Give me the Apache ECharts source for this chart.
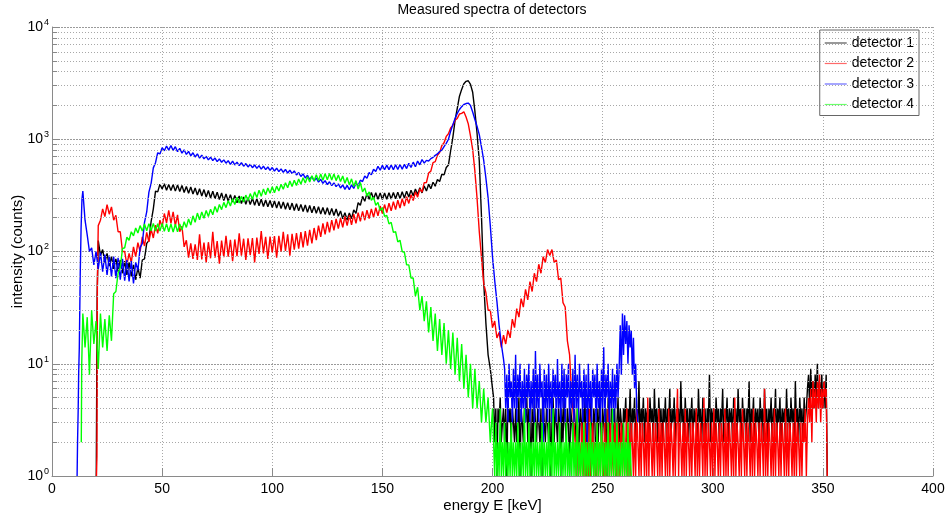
<!DOCTYPE html>
<html>
<head>
<meta charset="utf-8">
<script src="https://cdn.jsdelivr.net/npm/echarts@6/dist/echarts.min.js"></script>
<style>html,body{margin:0;padding:0;background:#fff}#c{width:948px;height:519px}</style>
</head>
<body>
<div id="c"></div>
<script>
// ---------- data ----------
const seriesNames = ['detector 1', 'detector 2', 'detector 3', 'detector 4'];
const xTicks = [0, 50, 100, 150, 200, 250, 300, 350, 400];
const yTicks = [1, 10, 100, 1000, 10000];

// detector 1 (black)
const det1Lead = [[20.1, 1], [20.5, 40]];
const det1MainStart = 21; // 1 keV steps
const det1Main = [
 125,92,104,80,96,74,90,70,86,66,
 84,64,82,62,80,60,76,56,72,58,
 84,86,118,125,185,240,345,340,398,360,
 402,352,396,350,395,345,392,342,388,335,
 380,330,375,325,368,318,362,312,356,306,
 350,300,345,295,338,290,332,284,325,280,
 320,276,316,272,312,268,306,264,302,262,
 298,258,295,255,292,252,288,250,285,246,
 282,244,279,241,276,238,272,235,270,232,
 266,230,263,227,260,224,257,221,253,219,
 250,216,247,214,245,211,242,209,239,206,
 230,196,222,191,220,196,235,219,272,258,
 310,280,328,292,336,294,334,292,333,291,
 332,292,334,293,336,295,338,297,340,300,
 345,306,352,314,360,322,370,333,384,346,
 398,362,414,382,438,420,488,482,560,590,
 790,1040,1470,1880,2420,2780,3120,3280,3320,3080,
 2620,1780,1120,640,205,54,23,12,9,6
];
const det1FloorStart = 200.5; // 0.5 keV steps
const det1Floor = [
 5,2,4,1,4,3,5,2,3,4,2,4,1,5,3,4,2,4,3,2,
 4,2,3,5,1,4,3,2,4,3,6,2,4,3,1,4,2,5,3,2,
 4,3,2,4,1,5,3,2,4,3,2,4,1,3,5,2,4,3,2,4,
 3,1,4,2,5,3,2,4,3,1,4,3,2,5,3,2,4,1,3,4,
 2,4,3,5,1,3,4,2,6,3,2,4,3,1,4,2,5,3,2,4,
 3,2,4,1,5,3,2,4,3,2,4,1,3,5,2,4,3,2,4,3,
 5,2,4,3,6,2,4,3,5,2,4,3,7,2,4,3,5,2,4,3,
 4,2,5,3,4,2,6,3,4,2,5,3,4,2,4,3,5,2,4,3,
 6,2,4,3,5,2,4,3,4,2,7,3,4,2,5,3,4,2,4,3,
 5,2,4,3,4,2,6,3,4,2,5,3,4,2,4,3,8,2,4,3,
 4,2,5,3,4,2,4,3,6,2,4,3,5,2,4,3,4,2,5,3,
 4,2,6,3,4,2,5,3,4,2,4,3,7,2,4,3,5,2,4,3,
 4,2,5,3,4,2,6,3,4,2,4,3,5,2,4,3,6,2,4,3,
 5,2,4,3,4,2,6,3,4,2,5,3,4,2,7,3,4,2,5,3,
 4,2,5,3,4,6,8,4,9,5,7,4,8,5,10,4,7,5,8,4,
 7,4,8,1
];

// detector 2 (red)
const det2Lead = [[20.2, 1], [20.4, 1.5], [20.6, 50]];
const det2MainStart = 21;
const det2Main = [
 170,190,240,205,262,215,250,190,210,150,
 150,100,100,76,96,80,110,90,120,100,
 135,112,148,122,158,132,172,145,190,165,
 218,180,232,178,225,170,212,150,168,110,
 126,88,118,86,116,84,142,85,120,80,
 121,87,150,88,124,78,125,89,138,90,
 127,82,128,91,145,92,130,84,131,93,
 132,80,133,95,152,96,135,86,136,98,
 137,88,138,100,150,101,142,92,144,104,
 146,106,149,109,152,113,156,118,162,126,
 170,135,178,142,184,148,190,154,195,160,
 198,164,205,170,210,173,215,178,222,186,
 228,190,233,196,240,202,246,208,254,218,
 262,222,270,230,278,236,286,244,296,254,
 308,268,320,284,340,305,362,338,410,412,
 500,520,620,632,720,760,880,930,1060,1120,
 1260,1330,1480,1530,1680,1700,1760,1580,1370,1070,
 810,520,295,150,88,52,43,30,30,21,
 24,17,19,14,18,15,20,17,25,21,
 31,26,38,32,46,37,54,44,64,54,
 77,64,90,80,104,92,104,80,84,56,
 58,35,32,16,12,5,3
];
const det2FloorStart = 237.5;
const det2Floor = [
 2,1,3,1,2,1,3,2,1,3,1,2,1,4,1,2,3,1,2,1,
 3,1,2,1,3,2,1,3,1,2,4,1,3,1,2,1,3,2,1,3,
 1,2,3,1,3,1,2,4,1,3,1,3,2,1,3,1,4,2,1,3,
 1,3,2,1,3,1,5,1,3,2,1,3,1,3,2,1,4,1,3,1,
 3,2,1,3,1,4,1,3,2,1,3,1,3,6,1,3,2,1,3,1,
 4,1,3,2,1,3,1,3,2,1,4,1,3,1,3,2,1,5,1,3,
 1,3,2,1,3,1,4,1,3,2,1,3,1,3,2,1,4,1,3,1,
 3,2,1,3,1,5,1,3,2,1,3,1,4,2,1,3,1,3,2,1,
 3,1,4,1,3,2,1,3,1,3,2,1,6,1,3,1,3,2,1,3,
 1,4,1,3,2,1,3,1,3,2,1,4,1,3,1,3,2,1,3,1,
 4,1,3,2,1,3,1,3,2,4,1,3,5,3,6,2,7,4,6,3,
 7,4,8,3,6,4,7,5,6,1
];

// detector 3 (blue)
const det3Lead = [[11.4, 1], [11.6, 2], [11.9, 4], [12.1, 8], [12.4, 14], [12.8, 60], [13.2, 160], [13.6, 290]];
const det3MainStart = 14;
const det3Main = [
 345,190,140,100,108,76,100,70,98,66,
 94,62,92,60,90,58,88,56,86,55,
 84,54,82,52,80,68,108,118,182,225,
 338,405,556,618,758,740,840,790,870,800,
 880,795,858,775,830,752,805,732,780,712,
 758,695,740,680,722,668,705,655,692,645,
 680,632,668,624,655,612,645,598,638,590,
 626,582,618,575,608,566,598,558,590,550,
 582,542,575,536,566,528,560,520,552,514,
 545,508,538,500,530,494,522,480,505,466,
 492,452,478,438,466,425,452,415,440,405,
 428,395,418,386,408,378,400,368,392,358,
 388,355,392,365,405,388,432,420,470,450,
 505,482,540,515,575,530,585,535,588,536,
 590,534,592,538,595,540,598,548,610,560,
 625,570,640,592,660,612,648,640,672,690,
 718,740,780,800,860,920,1000,1180,1350,1530,
 1700,1840,1950,2040,2080,2100,2000,1750,1500,1300,
 1100,850,650,450,300,170,90,55,36,22,
 15,11
];
const det3FloorStart = 205.5;
const det3Floor = [
 9,4,8,3,10,5,7,3,9,4,12,3,8,5,10,3,7,4,9,3,
 8,5,10,3,7,4,9,3,13,4,8,3,10,5,7,2,9,4,8,3,
 10,4,7,3,9,5,8,3,11,4,7,3,10,4,9,3,8,5,10,3,
 7,4,9,3,12,4,8,3,10,5,7,3,9,4,8,2,10,4,7,3,
 9,5,8,3,10,4,7,3,9,4,14,3,8,5,10,3,7,4,9,3,
 8,4,10,5,9,
 22,8,28,12,27,15,24,10,22,14,20,8,17,6,10,4,3
];

// detector 4 (green)
const det4Lead = [[13.3, 2], [13.5, 10]];
const det4MainStart = 14;
const det4Main = [
 28,14,26,8,30,15,24,9,28,14,
 25,13,27,16,42,44,64,72,106,108,
 134,126,150,138,162,146,170,152,176,153,
 177,153,178,152,177,152,178,151,177,150,
 176,149,175,150,176,155,184,164,195,172,
 208,182,220,192,225,198,232,205,238,212,
 252,224,262,236,274,246,284,254,295,262,
 304,270,310,276,318,285,328,292,340,302,
 352,310,360,320,368,330,378,334,382,346,
 396,358,410,370,424,380,432,388,442,398,
 454,408,464,416,474,424,482,428,490,432,
 494,436,496,434,490,428,480,420,470,406,
 456,392,444,380,428,360,412,340,368,312,
 340,285,305,258,274,232,246,206,210,176,
 182,148,150,122,126,100,98,76,76,58,
 58,40,48,30,40,24,36,19,32,16,
 28,13,25,12,23,10,20,9,19,8,
 17,7,15,6,12,5,10,4,9,4,
 7,3,6,3,5,2,4
];
const det4FloorStart = 200.5;
const det4Floor = [
 2,1,3,1,2,1,4,1,2,1,3,1,2,1,2,1,3,1,2,1,
 2,1,3,1,2,1,2,1,4,1,2,1,3,1,2,1,2,1,3,1,
 2,1,2,1,3,1,2,1,2,1,3,1,2,1,4,1,2,1,2,1,
 3,1,2,1,2,1,3,1,2,1,2,1,3,1,2,1,4,1,2,1,
 2,1,3,1,2,1,2,1,3,1,2,1,2,1,3,1,2,1,3,1,
 2,1,2,1,3,1,2,1,4,1,2,1,3,1,2,1,2,1,3,1,
 2,1,3,1,2,1
];

// ---------- build ----------
function build(lead, mainStart, main, floorStart, floor) {
  const pts = lead.map(p => [p[0], p[1]]);
  main.forEach((v, i) => pts.push([mainStart + i, v]));
  floor.forEach((v, i) => pts.push([floorStart + i * 0.5, v]));
  return pts;
}
const seriesData = [
  build(det1Lead, det1MainStart, det1Main, det1FloorStart, det1Floor),
  build(det2Lead, det2MainStart, det2Main, det2FloorStart, det2Floor),
  build(det3Lead, det3MainStart, det3Main, det3FloorStart, det3Floor),
  build(det4Lead, det4MainStart, det4Main, det4FloorStart, det4Floor)
];
const colors = ['#000000', '#ff0000', '#0000ff', '#00ff00'];
const legendColors = ['#555555', '#ff6a6a', '#6a6aff', '#6aff6a'];

const minorVals = [];
for (let k = 0; k < 4; k++) for (let m = 2; m <= 9; m++) minorVals.push(m * Math.pow(10, k));

const FONT = '"Liberation Sans", Arial, Helvetica, sans-serif';
const chart = echarts.init(document.getElementById('c'), null, { renderer: 'canvas' });

const series = [
  {
    type: 'line', name: '_minorgrid', data: [[0, 1]], symbol: 'none', silent: true,
    lineStyle: { opacity: 0 }, z: 1,
    markLine: {
      silent: true, symbol: 'none', animation: false, label: { show: false },
      lineStyle: { type: [1, 2], color: '#a8a8a8', width: 1 },
      emphasis: { disabled: true },
      data: minorVals.map(v => ({ yAxis: v }))
    }
  },
  {
    type: 'line', name: '_minorticks', data: [[0, 1]], symbol: 'none', silent: true,
    lineStyle: { opacity: 0 }, z: 1,
    markLine: {
      silent: true, symbol: 'none', animation: false, label: { show: false },
      lineStyle: { type: 'solid', color: '#888', width: 1 },
      emphasis: { disabled: true },
      data: minorVals.map(v => [{ coord: [0, v] }, { coord: [2.3, v] }])
    }
  }
];
seriesNames.forEach((n, i) => {
  series.push({
    type: 'line', name: n, data: seriesData[i], symbol: 'none', showSymbol: false,
    sampling: null, animation: false, z: 2 + i,
    lineStyle: { color: colors[i], width: 1.4, join: 'bevel' },
    itemStyle: { color: colors[i] },
    emphasis: { disabled: true }
  });
});

chart.setOption({
  animation: false,
  backgroundColor: '#fff',
  title: {
    text: 'Measured spectra of detectors', left: 492, top: 3, padding: 0, textAlign: 'center',
    textStyle: { fontFamily: FONT, fontSize: 14, fontWeight: 'normal', color: '#000' }
  },
  legend: {
    data: seriesNames.map((n, i) => ({ name: n, icon: 'rect', itemStyle: { color: legendColors[i] } })),
    orient: 'vertical', right: 29, top: 30,
    padding: [5, 5, 3, 5], itemGap: 4.5, itemWidth: 22, itemHeight: 1.2, itemTextGap: 3,
    backgroundColor: '#fff', borderColor: '#666', borderWidth: 1, borderRadius: 0,
    textStyle: { fontFamily: FONT, fontSize: 14, color: '#000', lineHeight: 16 },
    selectedMode: false
  },
  grid: { left: 52, right: 15, top: 27, bottom: 43, containLabel: false, outerBoundsMode: 'none' },
  xAxis: {
    type: 'value', min: 0, max: 400, interval: 50,
    name: 'energy E [keV]', nameLocation: 'middle', nameGap: 22, nameMoveOverlap: false,
    nameTextStyle: { fontFamily: FONT, fontSize: 15, color: '#000' },
    axisLine: { show: true, lineStyle: { color: '#8a8a8a', width: 1 } },
    axisTick: { show: true, inside: true, length: 8, lineStyle: { color: '#8a8a8a' } },
    axisLabel: { fontFamily: FONT, fontSize: 14, color: '#000', margin: 6,
      formatter: v => (xTicks.indexOf(v) >= 0 ? String(v) : '') },
    splitLine: { show: true, lineStyle: { type: [1, 2], color: '#a8a8a8', width: 1 } }
  },
  yAxis: {
    type: 'log', logBase: 10, min: 1, max: 10000,
    name: 'intensity (counts)', nameLocation: 'middle', nameGap: 27, nameRotate: 90, nameMoveOverlap: false,
    nameTextStyle: { fontFamily: FONT, fontSize: 15, color: '#000' },
    axisLine: { show: true, lineStyle: { color: '#8a8a8a', width: 1 } },
    axisTick: { show: true, inside: true, length: 8, lineStyle: { color: '#8a8a8a' } },
    axisLabel: {
      margin: 3, color: '#000',
      formatter: v => {
        if (yTicks.indexOf(v) < 0) return '';
        return '{b|10}{e|' + Math.round(Math.log10(v)) + '}';
      },
      rich: {
        b: { fontFamily: FONT, fontSize: 14, color: '#000' },
        e: { fontFamily: FONT, fontSize: 9, color: '#000', padding: [0, 0, 9, 1] }
      }
    },
    splitLine: { show: true, lineStyle: { type: [2, 1], color: '#9a9a9a', width: 1 } }
  },
  series: series
});
</script>
</body>
</html>
